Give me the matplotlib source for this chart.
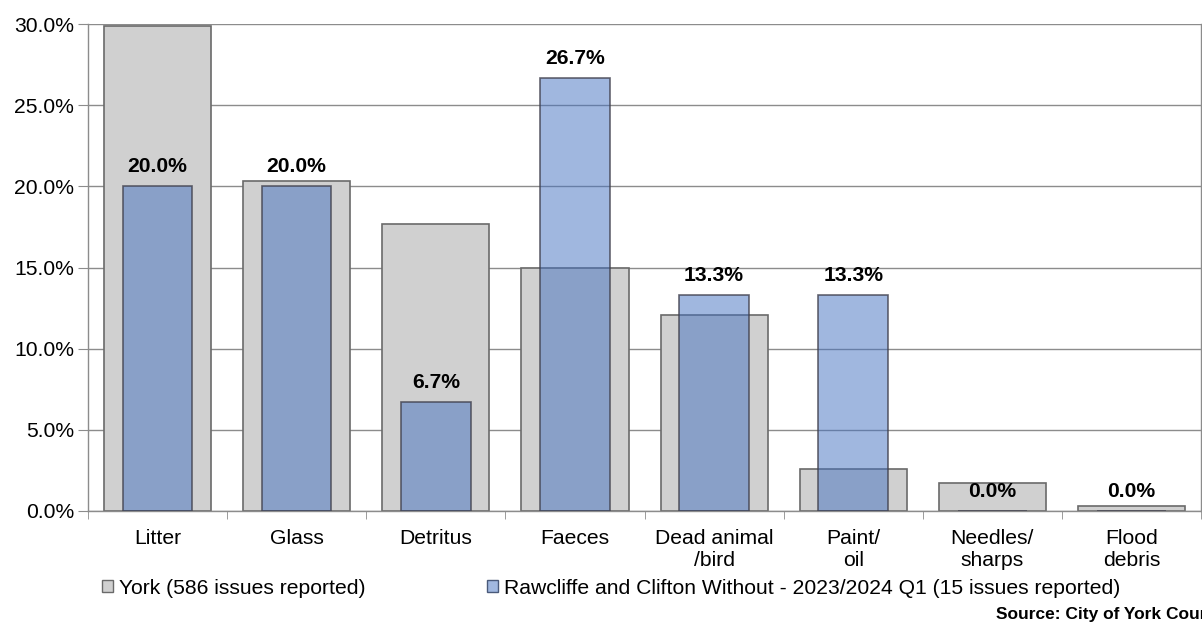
import matplotlib
matplotlib.use("Agg")
import matplotlib.pyplot as plt
from matplotlib.patches import Patch
from matplotlib.ticker import FuncFormatter, FixedLocator
import numpy as np

plt.rcParams['font.family'] = ['Liberation Sans', 'DejaVu Sans']

# data
categories = ['Litter', 'Glass', 'Detritus', 'Faeces', 'Dead animal\n/bird',
              'Paint/\noil', 'Needles/\nsharps', 'Flood\ndebris']
york = [29.9, 20.3, 17.7, 15.0, 12.1, 2.6, 1.7, 0.3]
ward = [20.0, 20.0, 6.7, 26.7, 13.3, 13.3, 0.0, 0.0]
york_label = 'York (586 issues reported)'
ward_label = 'Rawcliffe and Clifton Without - 2023/2024 Q1 (15 issues reported)'
y_ticks = [0, 5, 10, 15, 20, 25, 30]

gray = '#d0d0d0'
blue = (0.263, 0.443, 0.757, 0.5)
edge = '#6a6a6a'
fs = 15.2

fig = plt.figure(figsize=(12.02, 6.25), dpi=100)
ax = fig.add_axes([0.0732, 0.1824, 0.9260, 0.7792])

x = np.arange(len(categories))
ax.bar(x, york, width=0.77, color=gray, edgecolor=edge, linewidth=1.2, zorder=2)
ax.bar(x, ward, width=0.5, color=blue, edgecolor=(0.25, 0.25, 0.3, 0.8),
       linewidth=1.2, zorder=3)

for xi, v in zip(x, ward):
    ax.annotate(f'{v:.1f}%', (xi, v), xytext=(0, 14), textcoords='offset points',
                ha='center', va='center', fontsize=fs, fontweight='bold', zorder=4)

ax.set_xlim(-0.5, len(categories) - 0.5)
ax.set_ylim(0, 30)
ax.set_yticks(y_ticks)
ax.yaxis.set_major_formatter(FuncFormatter(lambda v, p: f'{v:.1f}%'))
ax.grid(axis='y', color='#8c8c8c', linewidth=1.0, zorder=0)
ax.set_axisbelow(True)

ax.set_xticks(x)
ax.set_xticklabels(categories, fontsize=fs, linespacing=1.22)
ax.xaxis.set_minor_locator(FixedLocator(np.arange(-0.5, len(categories), 1.0)))
ax.tick_params(axis='x', which='major', length=0, pad=13)
ax.tick_params(axis='x', which='minor', length=6, color='#8c8c8c', direction='out')
ax.tick_params(axis='y', length=7, color='#8c8c8c', labelsize=fs, pad=3)

for s in ['left', 'bottom', 'right']:
    ax.spines[s].set_color('#8c8c8c')
    ax.spines[s].set_linewidth(1.0)
ax.spines['top'].set_visible(False)

handles = [Patch(facecolor=gray, edgecolor=edge, label=york_label),
           Patch(facecolor='#a1b8e0', edgecolor='#4a5a7a', label=ward_label)]
fig.legend(handles=handles, loc='center left', bbox_to_anchor=(0.0849, 0.059),
           ncol=2, frameon=False, fontsize=fs, handlelength=0.5, handleheight=0.5,
           handletextpad=0.28, columnspacing=5.8, borderaxespad=0, borderpad=0)

# the source note runs off the right edge in the reference as well
fig.text(0.829, 0.017, 'Source: City of York Council', fontsize=12.5,
         fontweight='bold', ha='left', va='center')

fig.savefig('out.png', dpi=100)
